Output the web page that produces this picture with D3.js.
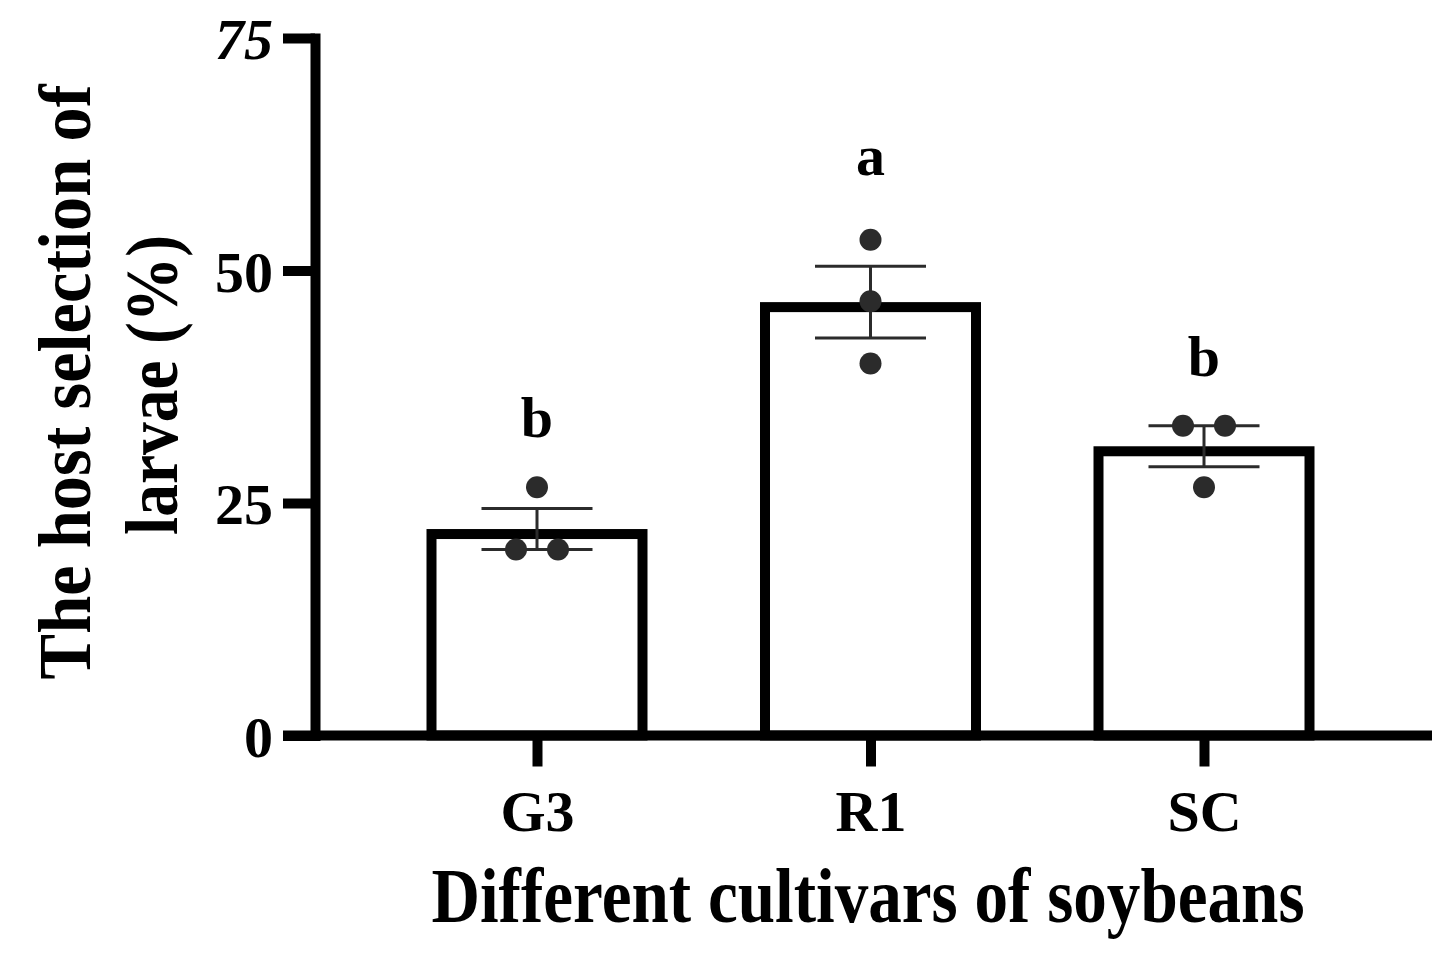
<!DOCTYPE html>
<html>
<head>
<meta charset="utf-8">
<script src="https://cdn.jsdelivr.net/npm/d3@7"></script>
<style>
  body { margin: 0; background: #fff; }
  text { font-family: "Liberation Serif", "Times New Roman", serif; font-weight: bold; fill: #000; }
</style>
</head>
<body>
<div id="chart"></div>
<script>
// Data
var cultivars = ["G3", "R1", "SC"];
var means = [22.2, 46.6, 31.1];
var sems = [2.2, 3.85, 2.2];
var replicates = [
  [26.7, 20.0, 20.0],
  [53.3, 46.7, 40.0],
  [33.3, 33.3, 26.7]
];
var sigLetters = ["b", "a", "b"];
var yTicks = [0, 25, 50, 75];

// SVG size
var svgWidth = 1455;
var svgHeight = 957;

var svg = d3.select("#chart")
  .append("svg")
  .attr("width", svgWidth)
  .attr("height", svgHeight);

// Scales
var xScale = d3.scalePoint()
  .domain(cultivars)
  .range([537, 1204]);

var yScale = d3.scaleLinear()
  .domain([0, 75])
  .range([735.5, 38]);

var barWidth = 211;   // stroke centre to stroke centre
var barStroke = 10;
var axisStroke = 10;

// Bars
svg.selectAll("rect.bar")
  .data(cultivars)
  .enter().append("rect")
  .attr("class", "bar")
  .attr("x", d => xScale(d) - barWidth / 2)
  .attr("y", (d, i) => yScale(means[i]) + barStroke / 2)
  .attr("width", barWidth)
  .attr("height", (d, i) => yScale(0) - yScale(means[i]) - barStroke / 2)
  .attr("fill", "#fff")
  .attr("stroke", "#000")
  .attr("stroke-width", barStroke);

// Error bars (mean +/- SEM)
var capHalf = 55.5;
var err = svg.selectAll("g.err")
  .data(cultivars)
  .enter().append("g")
  .attr("class", "err")
  .attr("stroke", "#2b2b2b")
  .attr("stroke-width", 3);

err.append("line")
  .attr("x1", d => xScale(d)).attr("x2", d => xScale(d))
  .attr("y1", (d, i) => yScale(means[i] + sems[i]))
  .attr("y2", (d, i) => yScale(means[i] - sems[i]));
err.append("line")
  .attr("x1", d => xScale(d) - capHalf).attr("x2", d => xScale(d) + capHalf)
  .attr("y1", (d, i) => yScale(means[i] + sems[i]))
  .attr("y2", (d, i) => yScale(means[i] + sems[i]));
err.append("line")
  .attr("x1", d => xScale(d) - capHalf).attr("x2", d => xScale(d) + capHalf)
  .attr("y1", (d, i) => yScale(means[i] - sems[i]))
  .attr("y2", (d, i) => yScale(means[i] - sems[i]));

// Individual points, spread sideways when values tie
var dotSpread = 21;
var dots = [];
cultivars.forEach(function(c, i) {
  var vals = replicates[i];
  vals.forEach(function(v, j) {
    var same = vals.map((w, k) => k).filter(k => vals[k] === v);
    var pos = same.indexOf(j);
    var off = same.length > 1 ? (pos - (same.length - 1) / 2) * 2 * dotSpread : 0;
    dots.push({ cat: c, value: v, off: off });
  });
});

svg.selectAll("circle.dot")
  .data(dots)
  .enter().append("circle")
  .attr("class", "dot")
  .attr("cx", d => xScale(d.cat) + d.off)
  .attr("cy", d => yScale(d.value))
  .attr("r", 11)
  .attr("fill", "#2b2b2b");

// Significance letters above the highest point
svg.selectAll("text.sig")
  .data(cultivars)
  .enter().append("text")
  .attr("class", "sig")
  .attr("x", d => xScale(d))
  .attr("y", (d, i) => yScale(d3.max(replicates[i])) - (/[bdfhklt]/.test(sigLetters[i]) ? 50 : 65))
  .attr("text-anchor", "middle")
  .style("font-size", "58px")
  .text((d, i) => sigLetters[i]);

// Y axis
var leftAxis = d3.axisLeft(yScale)
  .tickValues(yTicks)
  .tickSizeInner(32)
  .tickSizeOuter(0)
  .tickPadding(10);

var yAxisG = svg.append("g")
  .attr("transform", "translate(315, 0)")
  .call(leftAxis);
yAxisG.select(".domain")
  .attr("stroke", "#000")
  .attr("stroke-width", axisStroke)
  .attr("stroke-linecap", "square");
yAxisG.selectAll(".tick line")
  .attr("stroke", "#000")
  .attr("stroke-width", axisStroke);
yAxisG.selectAll(".tick text")
  .attr("fill", "#000")
  .attr("dy", "0.36em")
  .style("font-family", '"Liberation Serif", "Times New Roman", serif')
  .style("font-weight", "bold")
  .style("font-size", "58px")
  .style("font-style", d => d === 75 ? "italic" : "normal");

// X axis: baseline line across the whole plot plus category ticks
svg.append("line")
  .attr("x1", 283)
  .attr("x2", 1432)
  .attr("y1", yScale(0))
  .attr("y2", yScale(0))
  .attr("stroke", "#000")
  .attr("stroke-width", axisStroke);

var bottomAxis = d3.axisBottom(xScale)
  .tickSizeInner(31)
  .tickSizeOuter(0);

var xAxisG = svg.append("g")
  .attr("transform", `translate(0, ${yScale(0)})`)
  .call(bottomAxis);
xAxisG.select(".domain").remove();
xAxisG.selectAll(".tick line")
  .attr("stroke", "#000")
  .attr("stroke-width", axisStroke);
xAxisG.selectAll(".tick text")
  .attr("fill", "#000")
  .attr("y", 95)
  .attr("dy", 0)
  .style("font-family", '"Liberation Serif", "Times New Roman", serif')
  .style("font-weight", "bold")
  .style("font-size", "58px");

// Axis titles
svg.append("text")
  .attr("x", 868)
  .attr("y", 922)
  .attr("text-anchor", "middle")
  .attr("textLength", 873)
  .attr("lengthAdjust", "spacingAndGlyphs")
  .style("font-size", "78px")
  .text("Different cultivars of soybeans");

svg.append("text")
  .attr("transform", "translate(90, 382) rotate(-90)")
  .attr("text-anchor", "middle")
  .attr("textLength", 595)
  .attr("lengthAdjust", "spacingAndGlyphs")
  .style("font-size", "74px")
  .text("The host selection of");

svg.append("text")
  .attr("transform", "translate(177, 385) rotate(-90)")
  .attr("text-anchor", "middle")
  .attr("textLength", 300)
  .attr("lengthAdjust", "spacingAndGlyphs")
  .style("font-size", "74px")
  .text("larvae (%)");
</script>
</body>
</html>
